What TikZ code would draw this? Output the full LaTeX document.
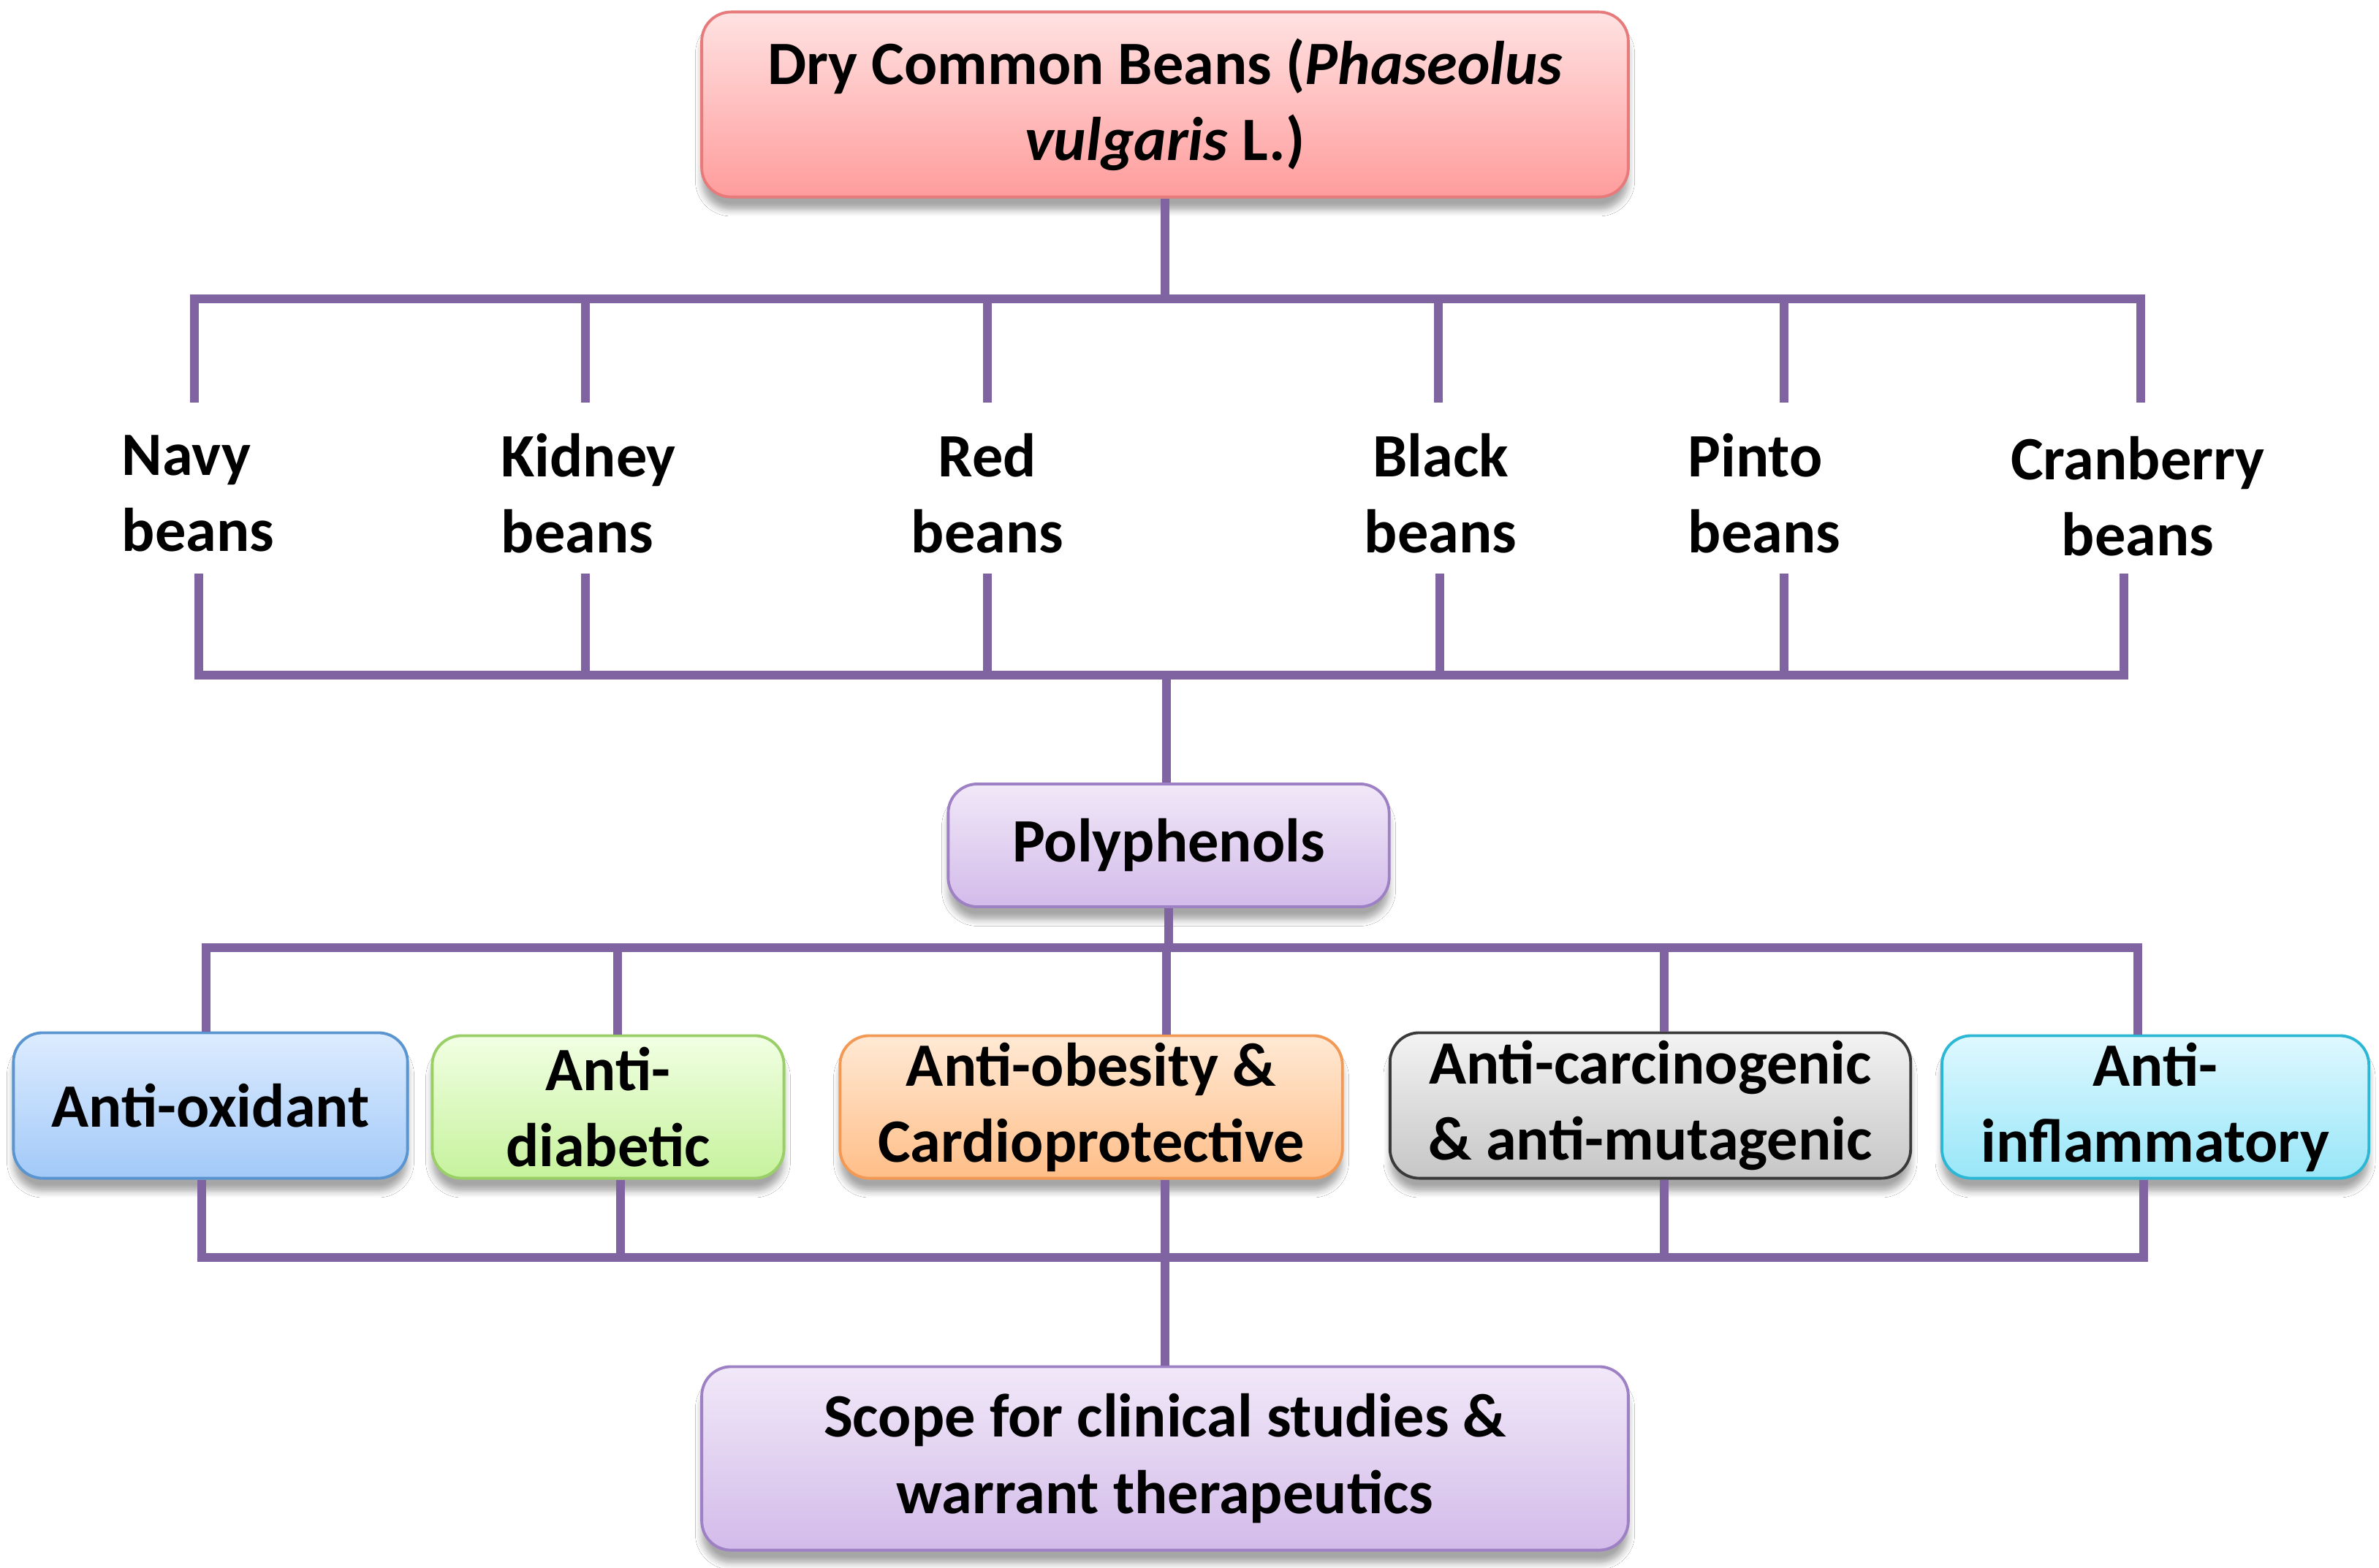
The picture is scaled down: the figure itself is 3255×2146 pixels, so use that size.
\documentclass[tikz,border=0pt]{standalone}
\usepackage{fontspec}
\setmainfont{Carlito}
\usetikzlibrary{shadows.blur}
\definecolor{lin}{HTML}{8064A2}
\definecolor{redT}{HTML}{FFE2E2}\definecolor{redB}{HTML}{FF9C9C}\definecolor{redD}{HTML}{E77A7A}
\definecolor{purT}{HTML}{F1E8F8}\definecolor{purB}{HTML}{D3BBEA}\definecolor{purD}{HTML}{9E80C4}
\definecolor{bluT}{HTML}{DDECFF}\definecolor{bluB}{HTML}{A2C9F8}\definecolor{bluD}{HTML}{5B95D0}
\definecolor{grnT}{HTML}{F1FFE3}\definecolor{grnB}{HTML}{C6F29C}\definecolor{grnD}{HTML}{9ACF68}
\definecolor{orgT}{HTML}{FFE9D4}\definecolor{orgB}{HTML}{FFBE88}\definecolor{orgD}{HTML}{F29A55}
\definecolor{gryT}{HTML}{F3F3F3}\definecolor{gryB}{HTML}{C6C6C6}\definecolor{gryD}{HTML}{3A3A3A}
\definecolor{cynT}{HTML}{DFF8FF}\definecolor{cynB}{HTML}{98E6F8}\definecolor{cynD}{HTML}{2CB8D4}
\begin{document}
\begin{tikzpicture}[x=0.01cm,y=-0.01cm,
  conn/.style={draw=lin,line width=3.4pt,line join=miter},
  txt/.style={font=\bfseries\fontsize{24}{29.6}\selectfont},
  box/.style={txt,rounded corners=0.4cm,line width=1.1pt,align=center,inner sep=0pt,
    blur shadow={shadow xshift=0pt,shadow yshift=-5pt,shadow blur radius=2.5pt,shadow opacity=35,shadow blur steps=6}},
  lbl/.style={txt,inner sep=0pt},
  boxred/.style={box,draw=redD,top color=redT,bottom color=redB},
  boxpur/.style={box,draw=purD,top color=purT,bottom color=purB},
  boxblu/.style={box,draw=bluD,top color=bluT,bottom color=bluB},
  boxgrn/.style={box,draw=grnD,top color=grnT,bottom color=grnB},
  boxorg/.style={box,draw=orgD,top color=orgT,bottom color=orgB},
  boxgry/.style={box,draw=gryD,top color=gryT,bottom color=gryB},
  boxcyn/.style={box,draw=cynD,top color=cynT,bottom color=cynB}]
\useasboundingbox[fill=white] (0,0) rectangle (3255,2146);

% boxes
\node[boxred,minimum width=12.67cm,minimum height=2.53cm] (top) at (1594,143)
  {Dry Common Beans (\textit{Phaseolus}\\\textit{vulgaris} L.)};
\node[boxpur,minimum width=6.03cm,minimum height=1.68cm] (poly) at (1599,1157) {Polyphenols};
\node[boxblu,minimum width=5.39cm,minimum height=1.99cm] (ox) at (288,1513) {Anti-oxidant};
\node[boxgrn,minimum width=4.81cm,minimum height=1.95cm] (dia) at (832,1515) {Anti-\\diabetic};
\node[boxorg,minimum width=6.87cm,minimum height=1.95cm] (ob) at (1493,1515) {Anti-obesity \&\\Cardioprotective};
\node[boxgry,minimum width=7.12cm,minimum height=1.99cm] (car) at (2258,1513) {Anti-carcinogenic\\\& anti-mutagenic};
\node[boxcyn,minimum width=5.84cm,minimum height=1.95cm] (inf) at (2949,1515) {Anti-\\inflammatory};
\node[boxpur,minimum width=12.67cm,minimum height=2.51cm] (scope) at (1594,1996)
  {Scope for clinical studies \&\\warrant therapeutics};

% bean labels
\node[lbl,align=left,anchor=west] (navy) at (166,675) {Navy\\beans};
\node[lbl,align=left,anchor=west] (kid) at (685,675) {Kidney\\beans};
\node[lbl,align=center] (red) at (1351,675) {Red\\beans};
\node[lbl,align=center] (blk) at (1971,675) {Black\\beans};
\node[lbl,align=left,anchor=west] (pin) at (2309,675) {Pinto\\beans};
\node[lbl,align=center] (cran) at (2925,679) {Cranberry\\beans};

% coordinates
\coordinate (b1) at (1594,409);
\coordinate (c1) at (266,551);  \coordinate (c2) at (801,551);  \coordinate (c3) at (1351,551);
\coordinate (c4) at (1968,551); \coordinate (c5) at (2441,551); \coordinate (c6) at (2929,551);
\coordinate (b2) at (1596,924);
\coordinate (e1) at (272,785);  \coordinate (e2) at (801,785);  \coordinate (e3) at (1351,785);
\coordinate (e4) at (1970,785); \coordinate (e5) at (2441,785); \coordinate (e6) at (2906,785);
\coordinate (f1) at (282,1297); \coordinate (f2) at (845,1297); \coordinate (f3) at (1596,1297);
\coordinate (f4) at (2277,1297);\coordinate (f5) at (2925,1297);
\coordinate (g1) at (276,1721); \coordinate (g2) at (849,1721); \coordinate (g3) at (1594,1721);
\coordinate (g4) at (2277,1721);\coordinate (g5) at (2933,1721);

% connectors
\draw[conn] (top.south) -- (b1);
\draw[conn] (c1) -- (c1 |- b1) -- (c6 |- b1) -- (c6);
\foreach \c in {c2,c3,c4,c5} \draw[conn] (\c |- b1) -- (\c);

\draw[conn] (e1) -- (e1 |- b2) -- (e6 |- b2) -- (e6);
\foreach \c in {e2,e3,e4,e5} \draw[conn] (\c) -- (\c |- b2);
\draw[conn] (b2) -- (b2 |- poly.north);

\draw[conn] (poly.south) -- (poly.south |- f3);
\draw[conn] (f1 |- ox.north) -- (f1) -- (f5) -- (f5 |- inf.north);
\draw[conn] (f2) -- (f2 |- dia.north);
\draw[conn] (f3) -- (f3 |- ob.north);
\draw[conn] (f4) -- (f4 |- car.north);

\draw[conn] (g1 |- ox.south) -- (g1) -- (g5) -- (g5 |- inf.south);
\draw[conn] (g2 |- dia.south) -- (g2);
\draw[conn] (g3 |- ob.south) -- (g3);
\draw[conn] (g4 |- car.south) -- (g4);
\draw[conn] (g3) -- (g3 |- scope.north);
\end{tikzpicture}
\end{document}
